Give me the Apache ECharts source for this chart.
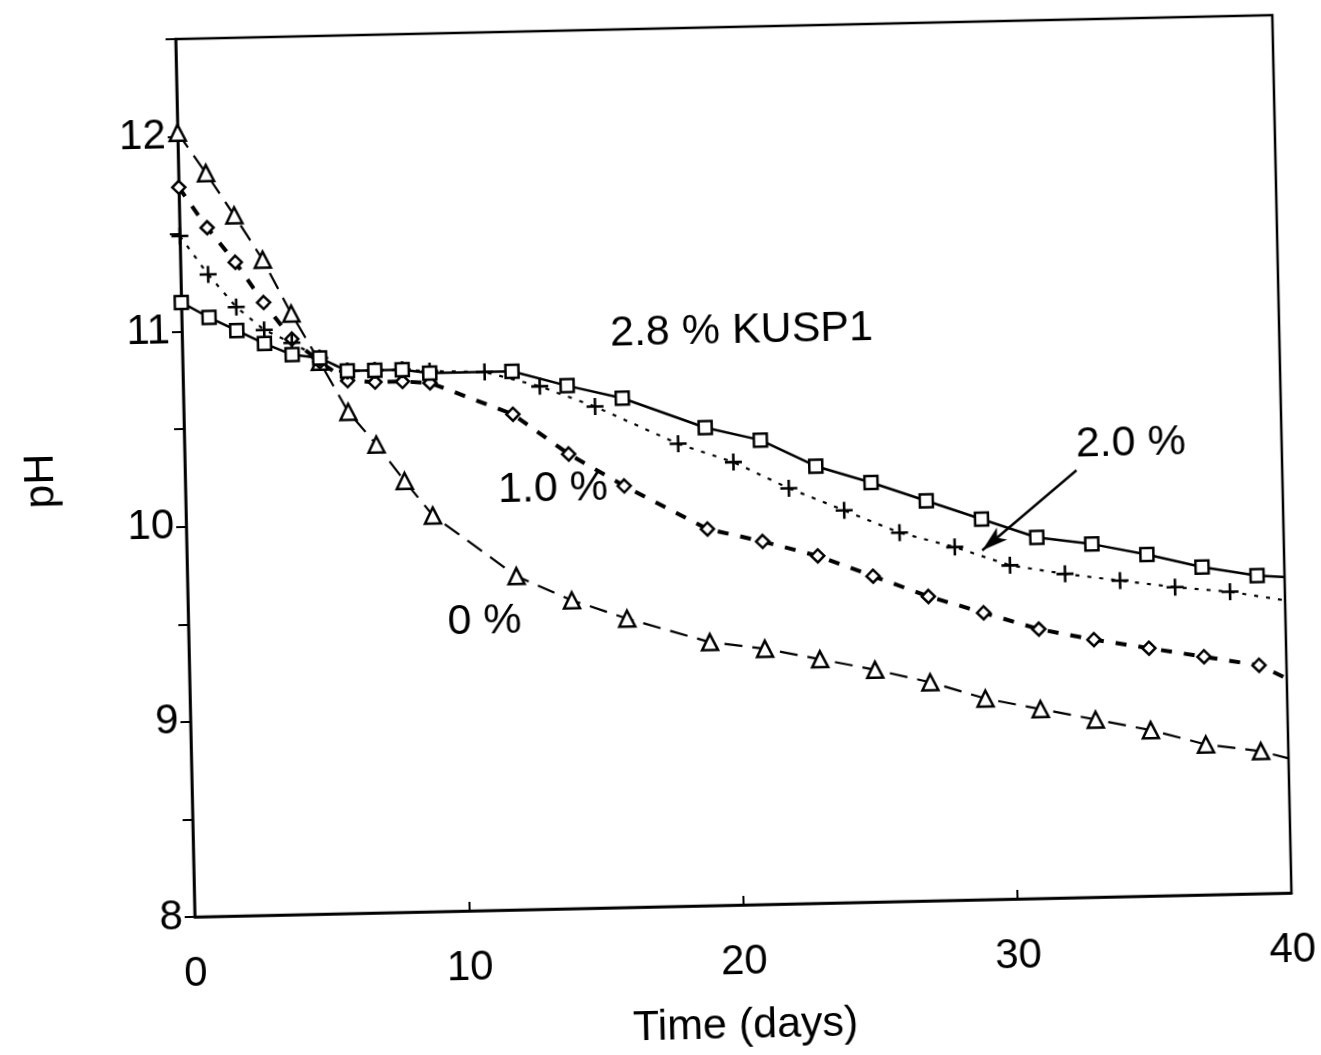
<!DOCTYPE html>
<html><head><meta charset="utf-8">
<script src="https://cdn.jsdelivr.net/npm/echarts@6/dist/echarts.min.js"></script>
<style>
html,body{margin:0;padding:0;background:#fff;overflow:hidden}
#c{width:1321px;height:1055px;transform-origin:734px 466px;transform:rotate(-1.25deg)}
</style></head><body><div id="c"></div>
<script>
// ---- data ----
const daysA = [0,1,2,3,4,5,6,7,8,9,12,14,16,19,21,23,25,27,29,31,33,35,37,39,40];
const daysB = [0,1,2,3,4,5,6,7,8,9,11,13,15,18,20,22,24,26,28,30,32,34,36,38,40];
const ph28 = [11.15,11.07,11.00,10.93,10.87,10.85,10.78,10.78,10.78,10.76,10.76,10.68,10.61,10.45,10.38,10.24,10.15,10.05,9.95,9.85,9.81,9.75,9.68,9.63,9.62];
const ph20 = [11.49,11.29,11.12,11.00,10.93,10.85,10.78,10.78,10.78,10.77,10.76,10.68,10.57,10.37,10.27,10.13,10.01,9.89,9.81,9.71,9.66,9.62,9.58,9.55,9.50];
const ph10 = [11.74,11.53,11.35,11.14,10.95,10.83,10.73,10.72,10.72,10.71,10.54,10.33,10.16,9.93,9.86,9.78,9.67,9.56,9.47,9.38,9.32,9.27,9.22,9.17,9.10];
const ph0  = [12.02,11.81,11.59,11.36,11.08,10.83,10.57,10.40,10.21,10.03,9.71,9.58,9.48,9.35,9.31,9.25,9.19,9.12,9.03,8.97,8.91,8.85,8.77,8.73,8.69];
const xTicks = [0,10,20,30,40];
const yTicks = [8,9,10,11,12];
const annotations = [
  {text:'2.8 % KUSP1', at:[20.4,10.94]},
  {text:'2.0 %', at:[34.5,10.32]},
  {text:'1.0 %', at:[13.4,10.15]},
  {text:'0 %', at:[10.8,9.48]}
];
const arrowFrom = [32.5,10.19];
const arrowTo = [29.0,9.79];

const FONT = '"Liberation Sans", Arial, sans-serif';
const plus = 'path://M7,0 H9.5 V7 H16.5 V9.5 H9.5 V16.5 H7 V9.5 H0 V7 H7 Z';

function pts(days, vals){
  return days.map((d,i)=> i===days.length-1 ? {value:[d,vals[i]], symbol:'none'} : [d,vals[i]]);
}
function mk(name, days, vals, symbol, size, lineType, width, openMarker){
  return {
    name, type:'line', data:pts(days, vals), symbol, symbolSize:size,
    showAllSymbol:true, clip:true,
    lineStyle:{color:'#000', width, type:lineType},
    itemStyle: openMarker ? {color:'#fff', borderColor:'#000', borderWidth:2.5} : {color:'#000', borderWidth:0},
    emphasis:{disabled:true}, animation:false
  };
}

const chart = echarts.init(document.getElementById('c'), null, {renderer:'canvas'});
const s20 = mk('2.0 %', daysB, ph20, plus, 17, [4,8], 2.2, false);
s20.markLine = {
  silent:true, symbol:['none','arrow'], symbolSize:[12,26], label:{show:false},
  lineStyle:{color:'#000', width:2.5, type:'solid'},
  data:[[{coord:arrowFrom},{coord:arrowTo}]], animation:false
};
chart.setOption({
  backgroundColor:'#fff',
  animation:false,
  grid:{left:185, top:27, width:1097, height:878, show:true, borderColor:'#000', borderWidth:2.5, backgroundColor:'transparent'},
  xAxis:{
    type:'value', min:0, max:40, interval:10,
    name:'Time (days)', nameLocation:'middle', nameGap:100,
    nameTextStyle:{fontFamily:FONT, fontSize:43, color:'#000'},
    axisLine:{lineStyle:{color:'#000', width:2.5}},
    axisTick:{inside:true, length:9, lineStyle:{color:'#000', width:2}},
    axisLabel:{fontFamily:FONT, fontSize:42, color:'#000', margin:36,
      formatter:v=> xTicks.includes(v) ? String(v) : ''},
    splitLine:{show:false}
  },
  yAxis:{
    type:'value', min:8, max:12.5, interval:0.5,
    name:'pH', nameLocation:'middle', nameGap:122, nameRotate:90,
    nameTextStyle:{fontFamily:FONT, fontSize:43, color:'#000'},
    axisLine:{lineStyle:{color:'#000', width:2.5}},
    axisTick:{inside:false, length:10, lineStyle:{color:'#000', width:2}},
    axisLabel:{fontFamily:FONT, fontSize:42, color:'#000', margin:12,
      formatter:v=> yTicks.includes(v) ? String(v) : ''},
    splitLine:{show:false}
  },
  series:[
    mk('0 %', daysA, ph0, 'triangle', 16, [18,10], 2.2, true),
    mk('1.0 %', daysA, ph10, 'diamond', 13, [11,12], 4, true),
    s20,
    mk('2.8 % KUSP1', daysA, ph28, 'rect', 13, 'solid', 2.5, true)
  ]
});
const gfx = annotations.map(a=>{
  const p = chart.convertToPixel({gridIndex:0}, a.at);
  return {type:'text', x:p[0], y:p[1], silent:true,
    style:{text:a.text, fontFamily:FONT, fontSize:43, fill:'#000', align:'center', verticalAlign:'middle'}};
});
chart.setOption({graphic:gfx});
</script></body></html>
